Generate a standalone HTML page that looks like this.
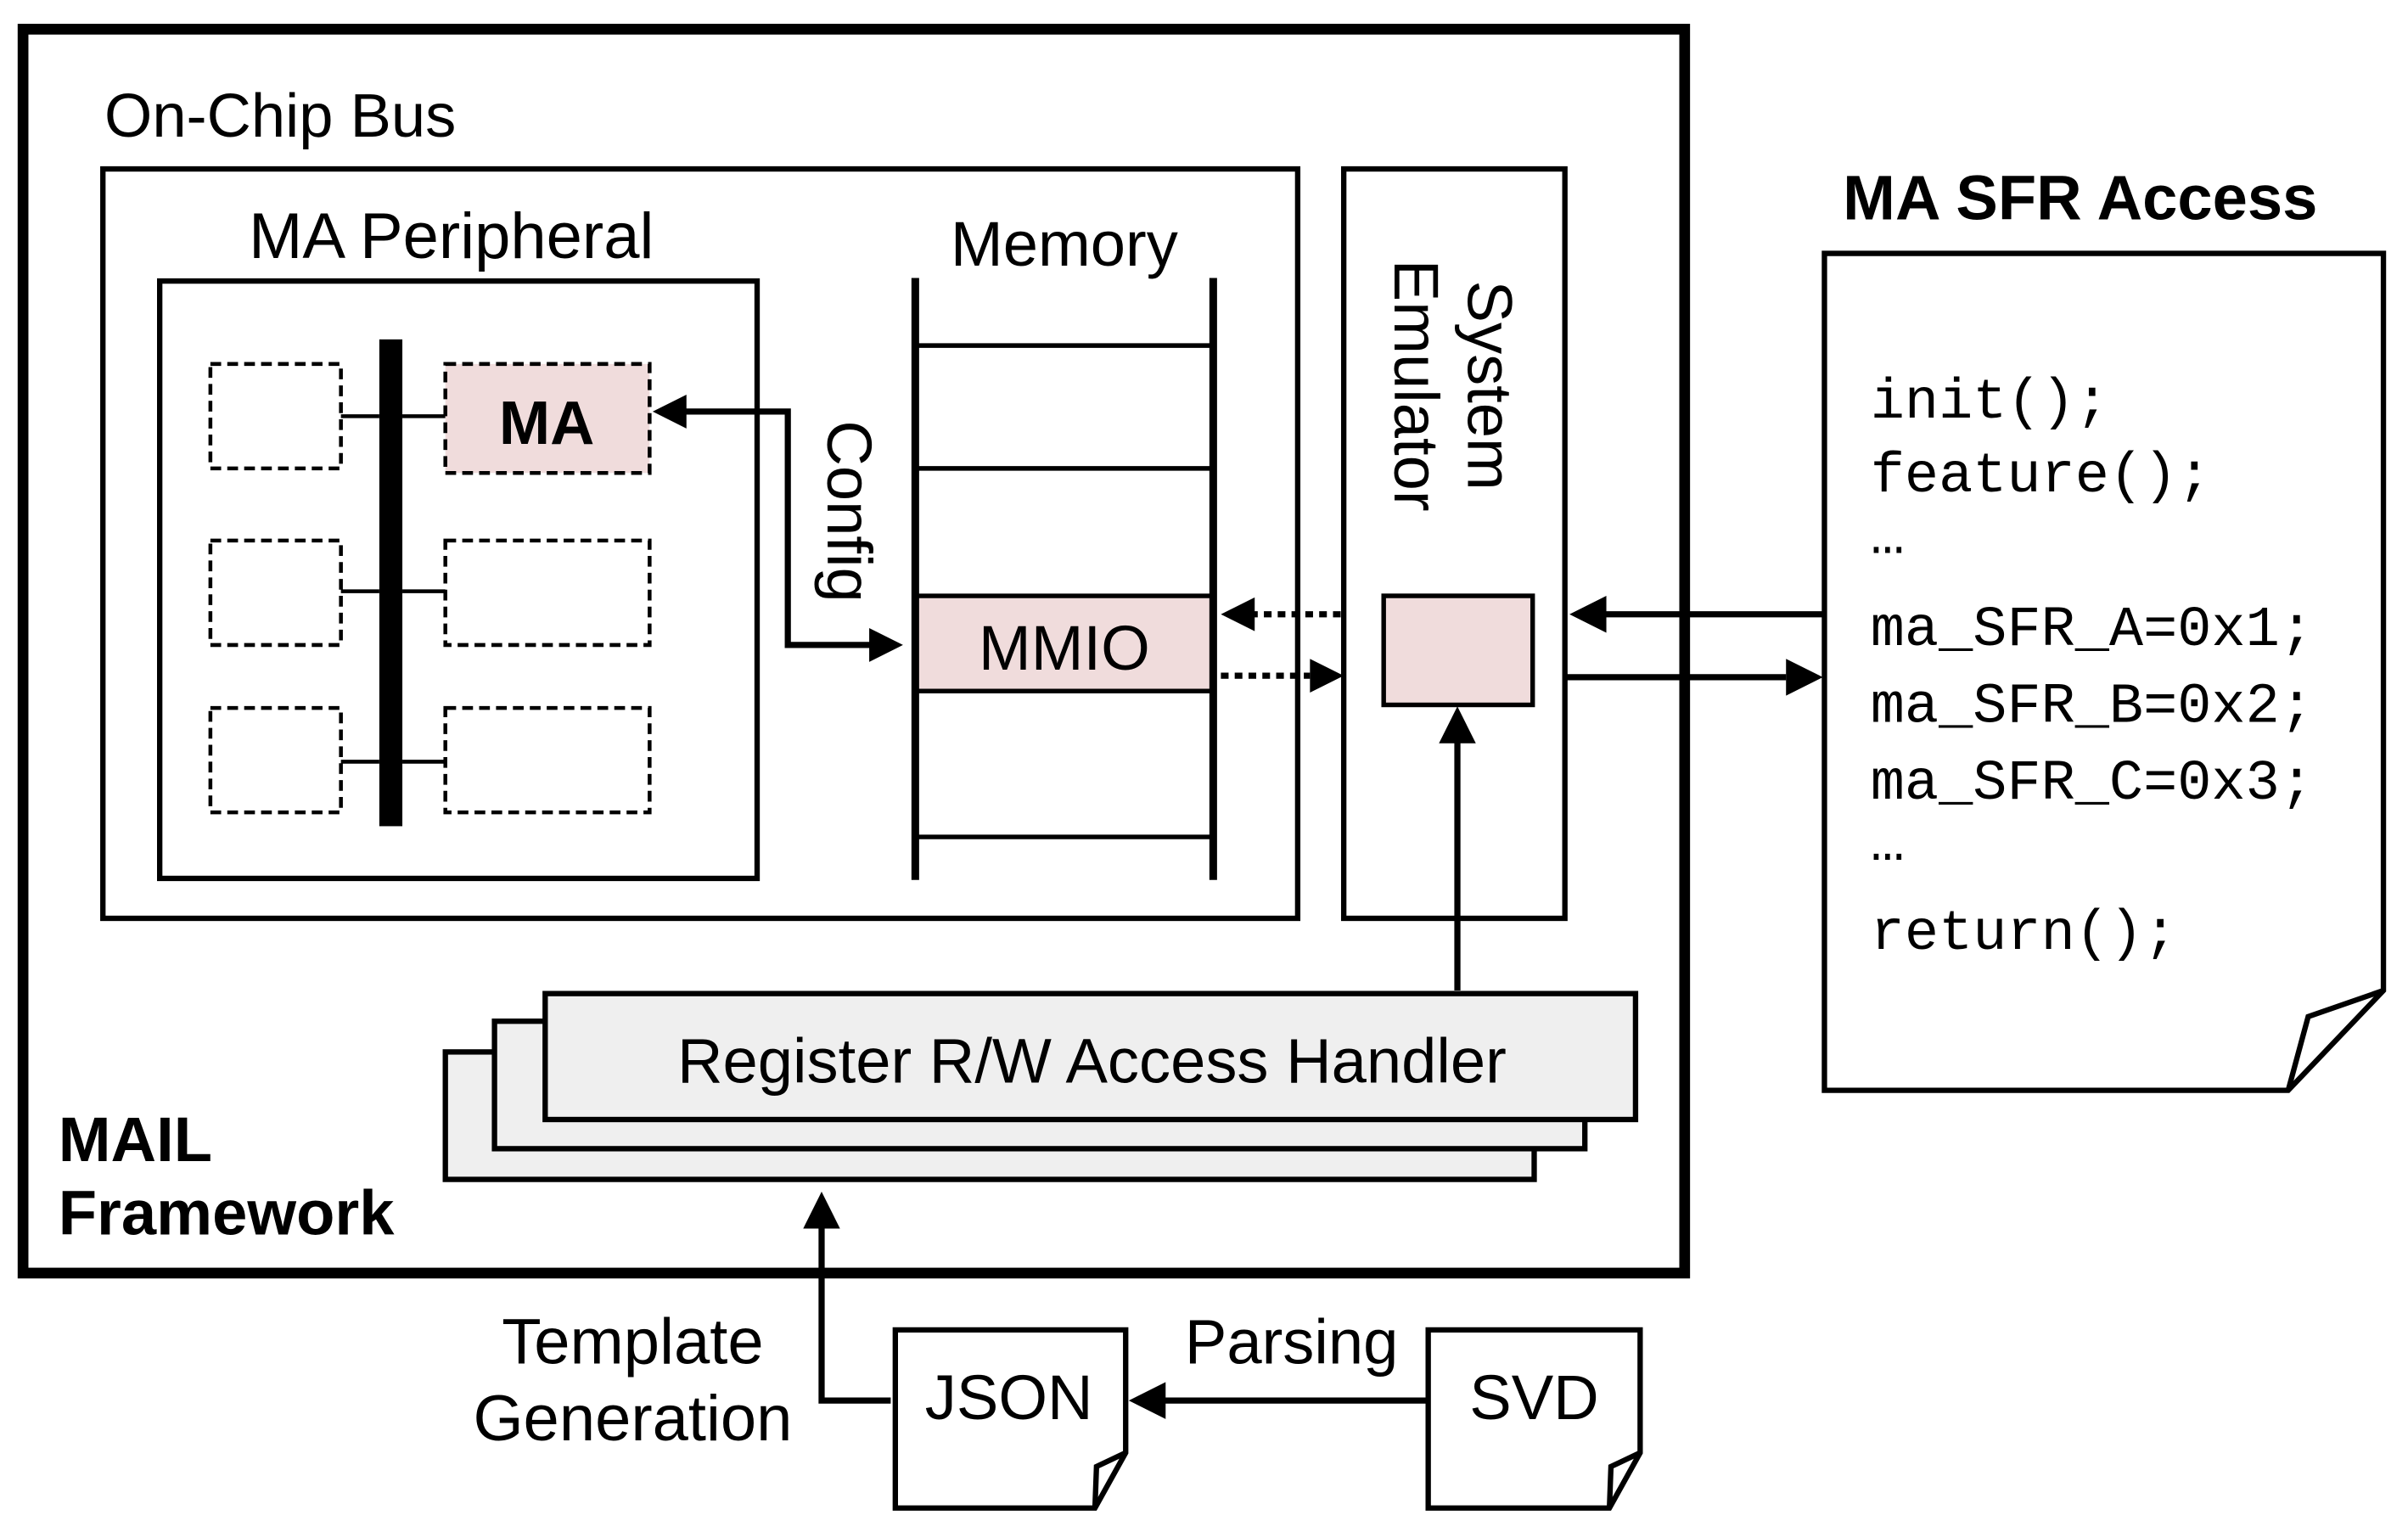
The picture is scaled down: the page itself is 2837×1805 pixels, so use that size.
<!DOCTYPE html>
<html><head><meta charset="utf-8"><style>html,body{margin:0;padding:0;background:#fff}svg{display:block}</style></head><body>
<svg width="2837" height="1805" viewBox="0 0 1568 997.6" xmlns="http://www.w3.org/2000/svg" font-family="Liberation Sans, Arial, sans-serif">
<g fill="none" stroke="#000">
<rect x="15" y="19" width="1082" height="810" stroke-width="7"/>
<rect x="67" y="110" width="778" height="488" stroke-width="3.5"/>
<rect x="104" y="183" width="389" height="389" stroke-width="3.5"/>
<rect x="875" y="110" width="144" height="488" stroke-width="3.5"/>
</g>
<text x="68" y="89" font-size="40">On-Chip Bus</text>
<text x="162" y="168" font-size="42">MA Peripheral</text>
<text x="693" y="173" font-size="41" text-anchor="middle">Memory</text>
<rect x="247" y="221" width="15" height="317" fill="#000"/>
<g stroke="#000" stroke-width="2.5">
<line x1="222" y1="271" x2="247" y2="271"/><line x1="262" y1="271" x2="290" y2="271"/>
<line x1="222" y1="385" x2="247" y2="385"/><line x1="262" y1="385" x2="290" y2="385"/>
<line x1="222" y1="496" x2="247" y2="496"/><line x1="262" y1="496" x2="290" y2="496"/>
</g>
<g fill="none" stroke="#000" stroke-width="2.5" stroke-dasharray="7,4">
<rect x="137" y="237" width="85" height="68"/><rect x="137" y="352" width="85" height="68"/><rect x="137" y="461" width="85" height="68"/>
<rect x="290" y="237" width="133" height="71" fill="#f0dcdc"/><rect x="290" y="352" width="133" height="68"/><rect x="290" y="461" width="133" height="68"/>
</g>
<text x="356" y="289" font-size="40" font-weight="bold" text-anchor="middle">MA</text>
<polyline points="568,420 513,420 513,268 445,268" fill="none" stroke="#000" stroke-width="4"/>
<path d="M588,420 l-22,-11 v22 z"/>
<path d="M425,268 l22,-11 v22 z"/>
<text transform="translate(539,333) rotate(90)" font-size="41" text-anchor="middle">Config</text>
<rect x="598" y="388" width="190" height="62" fill="#f0dcdc"/>
<g stroke="#000">
<line x1="596" y1="181" x2="596" y2="573" stroke-width="5"/><line x1="790" y1="181" x2="790" y2="573" stroke-width="5"/>
<g stroke-width="3"><line x1="596" y1="225" x2="790" y2="225"/><line x1="596" y1="305" x2="790" y2="305"/><line x1="596" y1="388" x2="790" y2="388"/><line x1="596" y1="450" x2="790" y2="450"/><line x1="596" y1="545" x2="790" y2="545"/></g>
</g>
<text x="693" y="436" font-size="41" text-anchor="middle">MMIO</text>
<text transform="translate(956,251) rotate(90)" font-size="41" text-anchor="middle">System</text>
<text transform="translate(908,251) rotate(90)" font-size="41" text-anchor="middle">Emulator</text>
<rect x="901" y="388" width="97" height="71" fill="#f0dcdc" stroke="#000" stroke-width="3"/>
<g stroke="#000" stroke-width="4" stroke-dasharray="5,4">
<line x1="873" y1="400" x2="815" y2="400"/><line x1="795" y1="440" x2="853" y2="440"/>
</g>
<path d="M795,400 l22,-11 v22 z"/><path d="M875,440 l-22,-11 v22 z"/>
<g stroke="#000" stroke-width="4">
<line x1="1187" y1="400" x2="1045" y2="400"/><line x1="1020" y1="441" x2="1163" y2="441"/>
<line x1="949" y1="645" x2="949" y2="482"/>
<polyline points="580,912 535,912 535,800" fill="none"/>
<line x1="930" y1="912" x2="757" y2="912"/>
</g>
<path d="M1022,400 l24,-12 v24 z"/><path d="M1187,441 l-24,-12 v24 z"/>
<path d="M949,460 l-12,24 h24 z"/>
<path d="M535,776 l-12,24 h24 z"/>
<path d="M735,912 l24,-12 v24 z"/>
<g stroke="#000" stroke-width="3.5" fill="#efefef">
<rect x="290" y="685" width="709" height="83"/>
<rect x="322" y="665" width="710" height="83"/>
<rect x="355" y="647" width="710" height="82"/>
</g>
<text x="711" y="705" font-size="41" text-anchor="middle">Register R/W Access Handler</text>
<text x="38" y="756" font-size="41" font-weight="bold">MAIL</text>
<text x="38" y="804" font-size="41" font-weight="bold">Framework</text>
<text x="1200" y="143" font-size="41" font-weight="bold">MA SFR Access</text>
<path d="M1188,165 H1552 V645 L1490,710 H1188 Z" fill="#fff" stroke="#000" stroke-width="3.5"/>
<path d="M1552,645 L1503,662 L1490,710" fill="none" stroke="#000" stroke-width="3.5"/>
<g font-family="Liberation Mono, DejaVu Sans Mono, monospace" font-size="37">
<text x="1218" y="272">init();</text>
<text x="1218" y="320">feature();</text>
<text x="1218" y="360">…</text>
<text x="1218" y="420">ma_SFR_A=0x1;</text>
<text x="1218" y="470">ma_SFR_B=0x2;</text>
<text x="1218" y="520">ma_SFR_C=0x3;</text>
<text x="1218" y="560">…</text>
<text x="1218" y="618">return();</text>
</g>
<g fill="#fff" stroke="#000" stroke-width="3.5">
<path d="M583,866 H733 V946 L713,982 H583 Z"/>
<path d="M733,946 L714,955 L713,982" fill="none"/>
<path d="M930,866 H1068 V946 L1048,982 H930 Z"/>
<path d="M1068,946 L1049,955 L1048,982" fill="none"/>
</g>
<text x="657" y="924" font-size="41" text-anchor="middle">JSON</text>
<text x="999" y="924" font-size="41" text-anchor="middle">SVD</text>
<text x="841" y="888" font-size="41" text-anchor="middle">Parsing</text>
<text x="412" y="888" font-size="42" text-anchor="middle">Template</text>
<text x="412" y="938" font-size="42" text-anchor="middle">Generation</text>
</svg>
</body></html>
